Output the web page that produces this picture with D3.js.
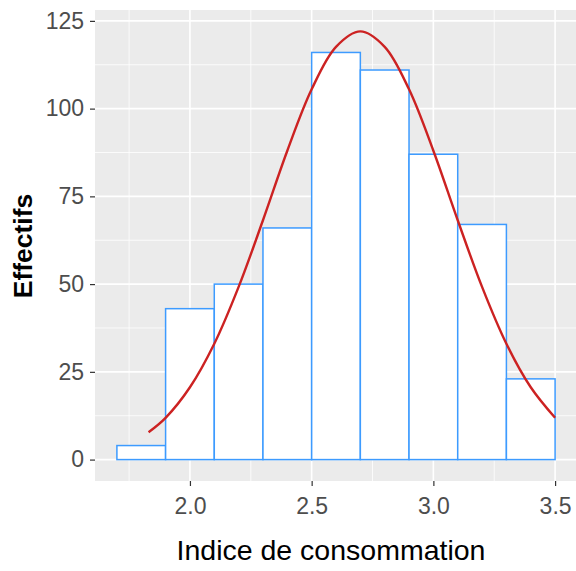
<!DOCTYPE html>
<html><head><meta charset="utf-8">
<script src="https://cdn.jsdelivr.net/npm/d3@7"></script>
<style>body{margin:0;background:#fff}</style>
</head><body>
<svg id="c" width="576" height="571"></svg>
<script>
// Histogram bins (lower edge, upper edge, count)
const binStarts = [1.7, 1.9, 2.1, 2.3, 2.5, 2.7, 2.9, 3.1, 3.3];
const binEnds   = [1.9, 2.1, 2.3, 2.5, 2.7, 2.9, 3.1, 3.3, 3.5];
const counts    = [4, 43, 50, 66, 116, 111, 87, 67, 23];
// Fitted density curve
const curveX = [1.83, 1.9, 2.0, 2.1, 2.2, 2.3, 2.4, 2.5, 2.6, 2.7, 2.8, 2.9, 3.0, 3.1, 3.2, 3.3, 3.4, 3.5];
const curveY = [7.8, 11.9, 20.6, 33.0, 49.2, 68.2, 88.0, 105.5, 117.6, 122, 117.6, 105.5, 88.0, 68.2, 49.2, 33.0, 20.6, 11.9];
const xTicks = [2.0, 2.5, 3.0, 3.5];
const xMinor = [1.75, 2.25, 2.75, 3.25];
const yTicks = [0, 25, 50, 75, 100, 125];
const yMinor = [12.5, 37.5, 62.5, 87.5, 112.5];

const svg = d3.select("#c");
const pl = 95, pr = 577, pt = 10, pb = 481;
const x = d3.scaleLinear().domain([1.61, 3.59]).range([pl, pr]);
const y = d3.scaleLinear().domain([-6.1, 128.1]).range([pb, pt]);

svg.append("rect").attr("x", pl).attr("y", pt).attr("width", pr - pl).attr("height", pb - pt).attr("fill", "#EBEBEB");
const g = svg.append("g");
g.selectAll(".xm").data(xMinor).join("line").attr("x1", d => x(d)).attr("x2", d => x(d)).attr("y1", pt).attr("y2", pb).attr("stroke", "#fff").attr("stroke-width", 0.8);
g.selectAll(".ym").data(yMinor).join("line").attr("y1", d => y(d)).attr("y2", d => y(d)).attr("x1", pl).attr("x2", pr).attr("stroke", "#fff").attr("stroke-width", 0.8);
g.selectAll(".xM").data(xTicks).join("line").attr("x1", d => x(d)).attr("x2", d => x(d)).attr("y1", pt).attr("y2", pb).attr("stroke", "#fff").attr("stroke-width", 1.6);
g.selectAll(".yM").data(yTicks).join("line").attr("y1", d => y(d)).attr("y2", d => y(d)).attr("x1", pl).attr("x2", pr).attr("stroke", "#fff").attr("stroke-width", 1.6);

const bins = counts.map((c, i) => ({x0: binStarts[i], x1: binEnds[i], c}));
svg.selectAll(".bar").data(bins).join("rect")
  .attr("x", d => x(d.x0)).attr("width", d => x(d.x1) - x(d.x0))
  .attr("y", d => y(d.c)).attr("height", d => y(0) - y(d.c))
  .attr("fill", "#fff").attr("stroke", "#3D9BFF").attr("stroke-width", 1.5);

const pts = curveX.map((v, i) => [v, curveY[i]]);
svg.append("path").datum(pts)
  .attr("d", d3.line().x(d => x(d[0])).y(d => y(d[1])).curve(d3.curveCatmullRom))
  .attr("fill", "none").attr("stroke", "#CC2222").attr("stroke-width", 2.4);

// axes
const xa = svg.append("g").attr("transform", `translate(0,${pb})`)
  .call(d3.axisBottom(x).tickValues(xTicks).tickFormat(d3.format(".1f")).tickSize(5).tickPadding(6));
const ya = svg.append("g").attr("transform", `translate(${pl},0)`)
  .call(d3.axisLeft(y).tickValues(yTicks).tickSize(5).tickPadding(6));
[xa, ya].forEach(a => {
  a.select(".domain").remove();
  a.selectAll("line").attr("stroke", "#333").attr("stroke-width", 1.2);
  a.selectAll("text").attr("fill", "#4D4D4D").attr("font-family", "Liberation Sans, Arial, sans-serif").attr("font-size", 23);
});
xa.selectAll("text").attr("dy", "0.95em");

svg.append("text").attr("x", 331).attr("y", 560).attr("text-anchor", "middle")
  .attr("font-family", "Liberation Sans, Arial, sans-serif").attr("font-size", 28.5).attr("fill", "#000")
  .text("Indice de consommation");
svg.append("text").attr("transform", "translate(32,246) rotate(-90)").attr("text-anchor", "middle")
  .attr("font-family", "Liberation Sans, Arial, sans-serif").attr("font-size", 26.5).attr("font-weight", "bold").attr("fill", "#000")
  .text("Effectifs");
</script>
</body></html>
